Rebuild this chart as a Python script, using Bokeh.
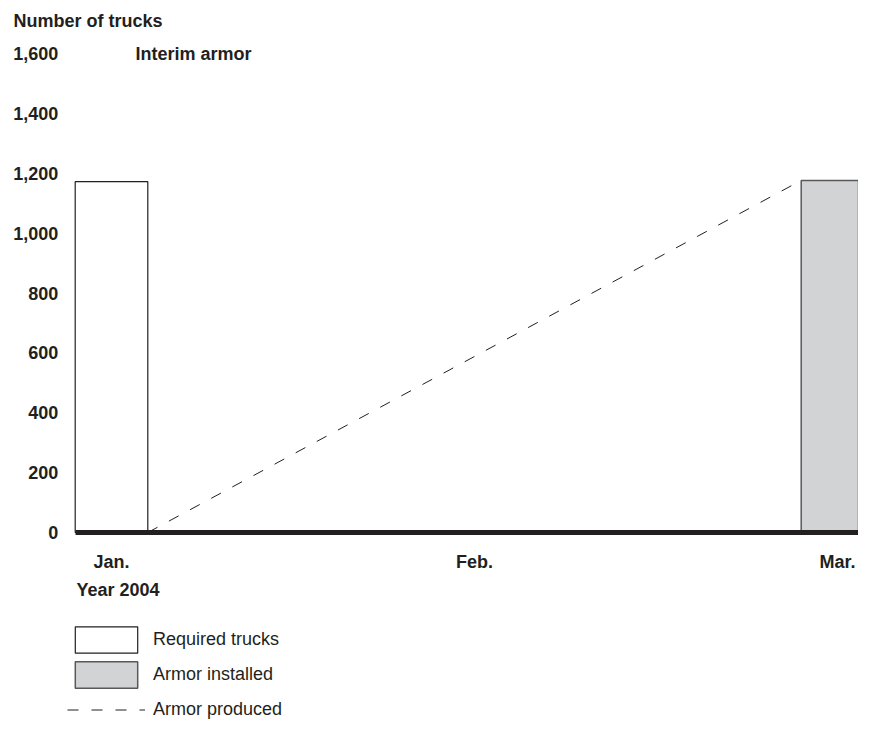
from bokeh.plotting import figure
from bokeh.models import Range1d, FixedTicker, Legend, LegendItem
from bokeh.core.properties import value
from bokeh.embed import file_html
from bokeh.resources import INLINE

# ---- data ----
months = ["Jan.", "Feb.", "Mar."]
required_month = ["Jan."]
required_trucks = [1172]
installed_month = ["Mar."]
armor_installed = [1176]
produced_months = ["Jan.", "Mar."]
armor_produced = [0, 1176]
y_ticks = [0, 200, 400, 600, 800, 1000, 1200, 1400, 1600]
y_tick_labels = ["0", "200", "400", "600", "800", "1,000", "1,200", "1,400", "1,600"]
chart_title = "Number of trucks"
panel_title = "Interim armor"
x_title = "Year 2004"

# ---- styling / layout ----
INK = "#231f20"
GREY = "#d1d3d4"
FONT = value("Liberation Sans")
FS = "18px"
BAR_W = 0.2
W, H = 858, 722
X_PX_PER_UNIT = 363.0
X_ZERO_PX = 111.0          # screen x of month index 0
Y_PX_PER_UNIT = 479.0 / 1600.0
Y_ZERO_PX = 532.0          # screen y (from top) of value 0

x0 = -X_ZERO_PX / X_PX_PER_UNIT
x1 = (W - X_ZERO_PX) / X_PX_PER_UNIT
y1 = Y_ZERO_PX / Y_PX_PER_UNIT
y0 = -(H - Y_ZERO_PX) / Y_PX_PER_UNIT


def sx(px):
    return (px - X_ZERO_PX) / X_PX_PER_UNIT


def sy(py):
    return (Y_ZERO_PX - py) / Y_PX_PER_UNIT


idx = {m: i for i, m in enumerate(months)}

p = figure(width=W, height=H, x_range=Range1d(x0, x1), y_range=Range1d(y0, y1),
           output_backend="svg", toolbar_location=None, min_border=0)
p.outline_line_color = None
p.xgrid.visible = False
p.ygrid.visible = False

r_req = p.vbar(x=[idx[m] for m in required_month], top=required_trucks, bottom=0,
               width=BAR_W, fill_color="white", line_color=INK, line_width=1.2)
r_ins = p.vbar(x=[idx[m] for m in installed_month], top=armor_installed, bottom=0,
               width=BAR_W, fill_color=GREY, line_color="#58595b", line_width=1.5)
px = [idx[produced_months[0]] + BAR_W / 2, idx[produced_months[1]] - BAR_W / 2]
r_prod = p.line(x=px, y=armor_produced, line_color=INK, line_width=1, line_dash="11 13")

# x axis = thick baseline at zero
xa = p.xaxis[0]
xa.fixed_location = 0
xa.bounds = (-BAR_W / 2, x1)
xa.ticker = FixedTicker(ticks=list(range(len(months))))
xa.major_label_overrides = {i: m for i, m in enumerate(months)}
xa.axis_line_color = INK
xa.axis_line_width = 5
xa.major_tick_out = 0
xa.major_tick_in = 0
xa.minor_tick_out = 0
xa.minor_tick_in = 0
xa.major_label_standoff = 19
xa.major_label_text_font = "Liberation Sans"
xa.major_label_text_font_style = "bold"
xa.major_label_text_font_size = FS
xa.major_label_text_color = INK

ya = p.yaxis[0]
ya.fixed_location = -BAR_W / 2
ya.ticker = FixedTicker(ticks=y_ticks)
ya.major_label_overrides = {t: l for t, l in zip(y_ticks, y_tick_labels)}
ya.axis_line_color = None
ya.major_tick_out = 0
ya.major_tick_in = 0
ya.minor_tick_out = 0
ya.minor_tick_in = 0
ya.major_label_standoff = 17
ya.major_label_text_font = "Liberation Sans"
ya.major_label_text_font_style = "bold"
ya.major_label_text_font_size = FS
ya.major_label_text_color = INK

# texts
p.text(x=[sx(13), sx(135), sx(76)],
       y=[sy(20), 1600, sy(589)],
       text=[chart_title, panel_title, x_title],
       text_font=FONT, text_font_style="bold", text_font_size=FS,
       text_color=INK, text_align="left", text_baseline="middle")

legend = Legend(items=[LegendItem(label="Required trucks", renderers=[r_req]),
                       LegendItem(label="Armor installed", renderers=[r_ins]),
                       LegendItem(label="Armor produced", renderers=[r_prod])],
                location=(67, -4), orientation="vertical",
                glyph_width=78, glyph_height=33, spacing=2, padding=0, margin=0,
                label_standoff=8, label_text_font="Liberation Sans",
                label_text_font_size=FS, label_text_color=INK,
                border_line_color=None, background_fill_alpha=0)
p.add_layout(legend)

open("out.html", "w").write(file_html(p, INLINE))
